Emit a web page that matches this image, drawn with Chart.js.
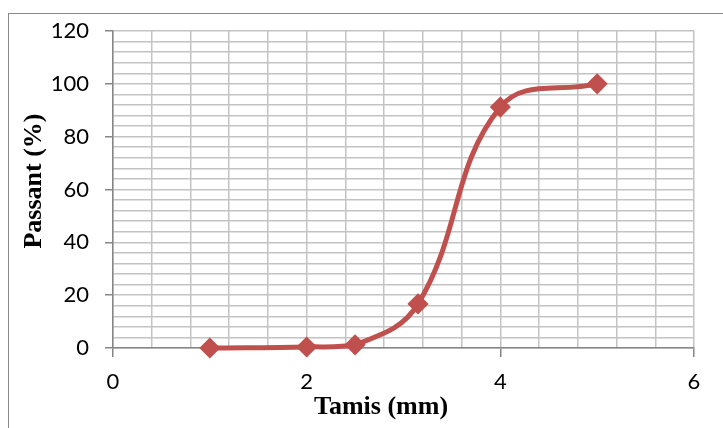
<!DOCTYPE html>
<html>
<head>
<meta charset="utf-8">
<script src="https://cdn.jsdelivr.net/npm/chart.js@4"></script>
<style>
  html, body { margin: 0; padding: 0; background: #ffffff; }
  #wrap { position: relative; width: 723px; height: 428px; }
  canvas { display: block; }
</style>
</head>
<body>
<div id="wrap"><canvas id="c" width="723" height="428"></canvas></div>
<script>
// ---- data ----
const sieveSizes = [1, 2, 2.5, 3.15, 4, 5];          // Tamis (mm)
const passing    = [0, 0.4, 1.2, 16.7, 91.2, 100];   // Passant (%)
const xTickLabels = [0, 2, 4, 6];
const yTickLabels = [0, 20, 40, 60, 80, 100, 120];
const xTitle = 'Tamis (mm)';
const yTitle = 'Passant (%)';

const near = (v, arr) => arr.some(a => Math.abs(a - v) < 1e-6);

const points = sieveSizes.map((x, i) => ({ x: x, y: passing[i] }));

const frameAndTitles = {
  id: 'frameAndTitles',
  beforeDraw(chart) {
    const ctx = chart.ctx;
    ctx.save();
    ctx.fillStyle = '#ffffff';
    ctx.fillRect(0, 0, chart.width, chart.height);
    ctx.strokeStyle = '#8a8a8a';
    ctx.lineWidth = 1;
    ctx.strokeRect(8.5, 13.5, 900, 900);
    ctx.restore();
  },
  afterDraw(chart) {
    const ctx = chart.ctx;
    ctx.save();
    ctx.fillStyle = '#000000';
    ctx.font = 'bold 26px "Liberation Serif", "Times New Roman", serif';
    ctx.textAlign = 'center';
    ctx.textBaseline = 'alphabetic';
    ctx.fillText(xTitle, 381, 414);
    ctx.translate(41, 181);
    ctx.rotate(-Math.PI / 2);
    ctx.fillText(yTitle, 0, 0);
    ctx.restore();
  }
};

const gridColor = '#c3c3c3';
const axisColor = '#868686';

new Chart(document.getElementById('c'), {
  type: 'scatter',
  data: {
    datasets: [{
      data: points,
      showLine: true,
      borderColor: '#c0504d',
      backgroundColor: '#c0504d',
      borderWidth: 5,
      tension: 0.4,
      pointStyle: 'rectRot',
      pointRadius: 9.5,
      pointHoverRadius: 9.5,
      pointBorderWidth: 1.5,
      pointBorderColor: '#c0504d',
      pointBackgroundColor: '#c0504d',
      clip: false
    }]
  },
  options: {
    responsive: false,
    animation: false,
    events: [],
    layout: { padding: { left: 0, top: 31, right: 29, bottom: 0 } },
    plugins: {
      legend: { display: false },
      tooltip: { enabled: false },
      title: { display: false }
    },
    scales: {
      x: {
        type: 'linear',
        min: 0, max: 6,
        afterFit(s) { s.height = 80; },
        ticks: {
          stepSize: 0.4,
          autoSkip: false,
          maxRotation: 0,
          padding: 12,
          color: '#000000',
          font: { family: 'Lato', size: 22 },
          callback: v => near(v, xTickLabels) ? String(Math.round(v)) : ''
        },
        grid: {
          color: gridColor,
          lineWidth: 1.5,
          drawTicks: true,
          tickLength: 9,
          tickColor: ctx => near(ctx.tick.value, xTickLabels) ? axisColor : 'rgba(0,0,0,0)',
          tickWidth: 1.5
        },
        border: { display: true, color: axisColor, width: 1.5 }
      },
      y: {
        type: 'linear',
        min: 0, max: 120,
        afterFit(s) { s.width = 113; },
        ticks: {
          stepSize: 4,
          autoSkip: false,
          padding: 16,
          color: '#000000',
          font: { family: 'Lato', size: 22 },
          callback: v => near(v, yTickLabels) ? String(Math.round(v)) : ''
        },
        grid: {
          color: gridColor,
          lineWidth: 1.5,
          drawTicks: true,
          tickLength: 8,
          tickColor: ctx => near(ctx.tick.value, yTickLabels) ? axisColor : 'rgba(0,0,0,0)',
          tickWidth: 1.5
        },
        border: { display: true, color: axisColor, width: 1.5 }
      }
    }
  },
  plugins: [frameAndTitles]
});
</script>
</body>
</html>
